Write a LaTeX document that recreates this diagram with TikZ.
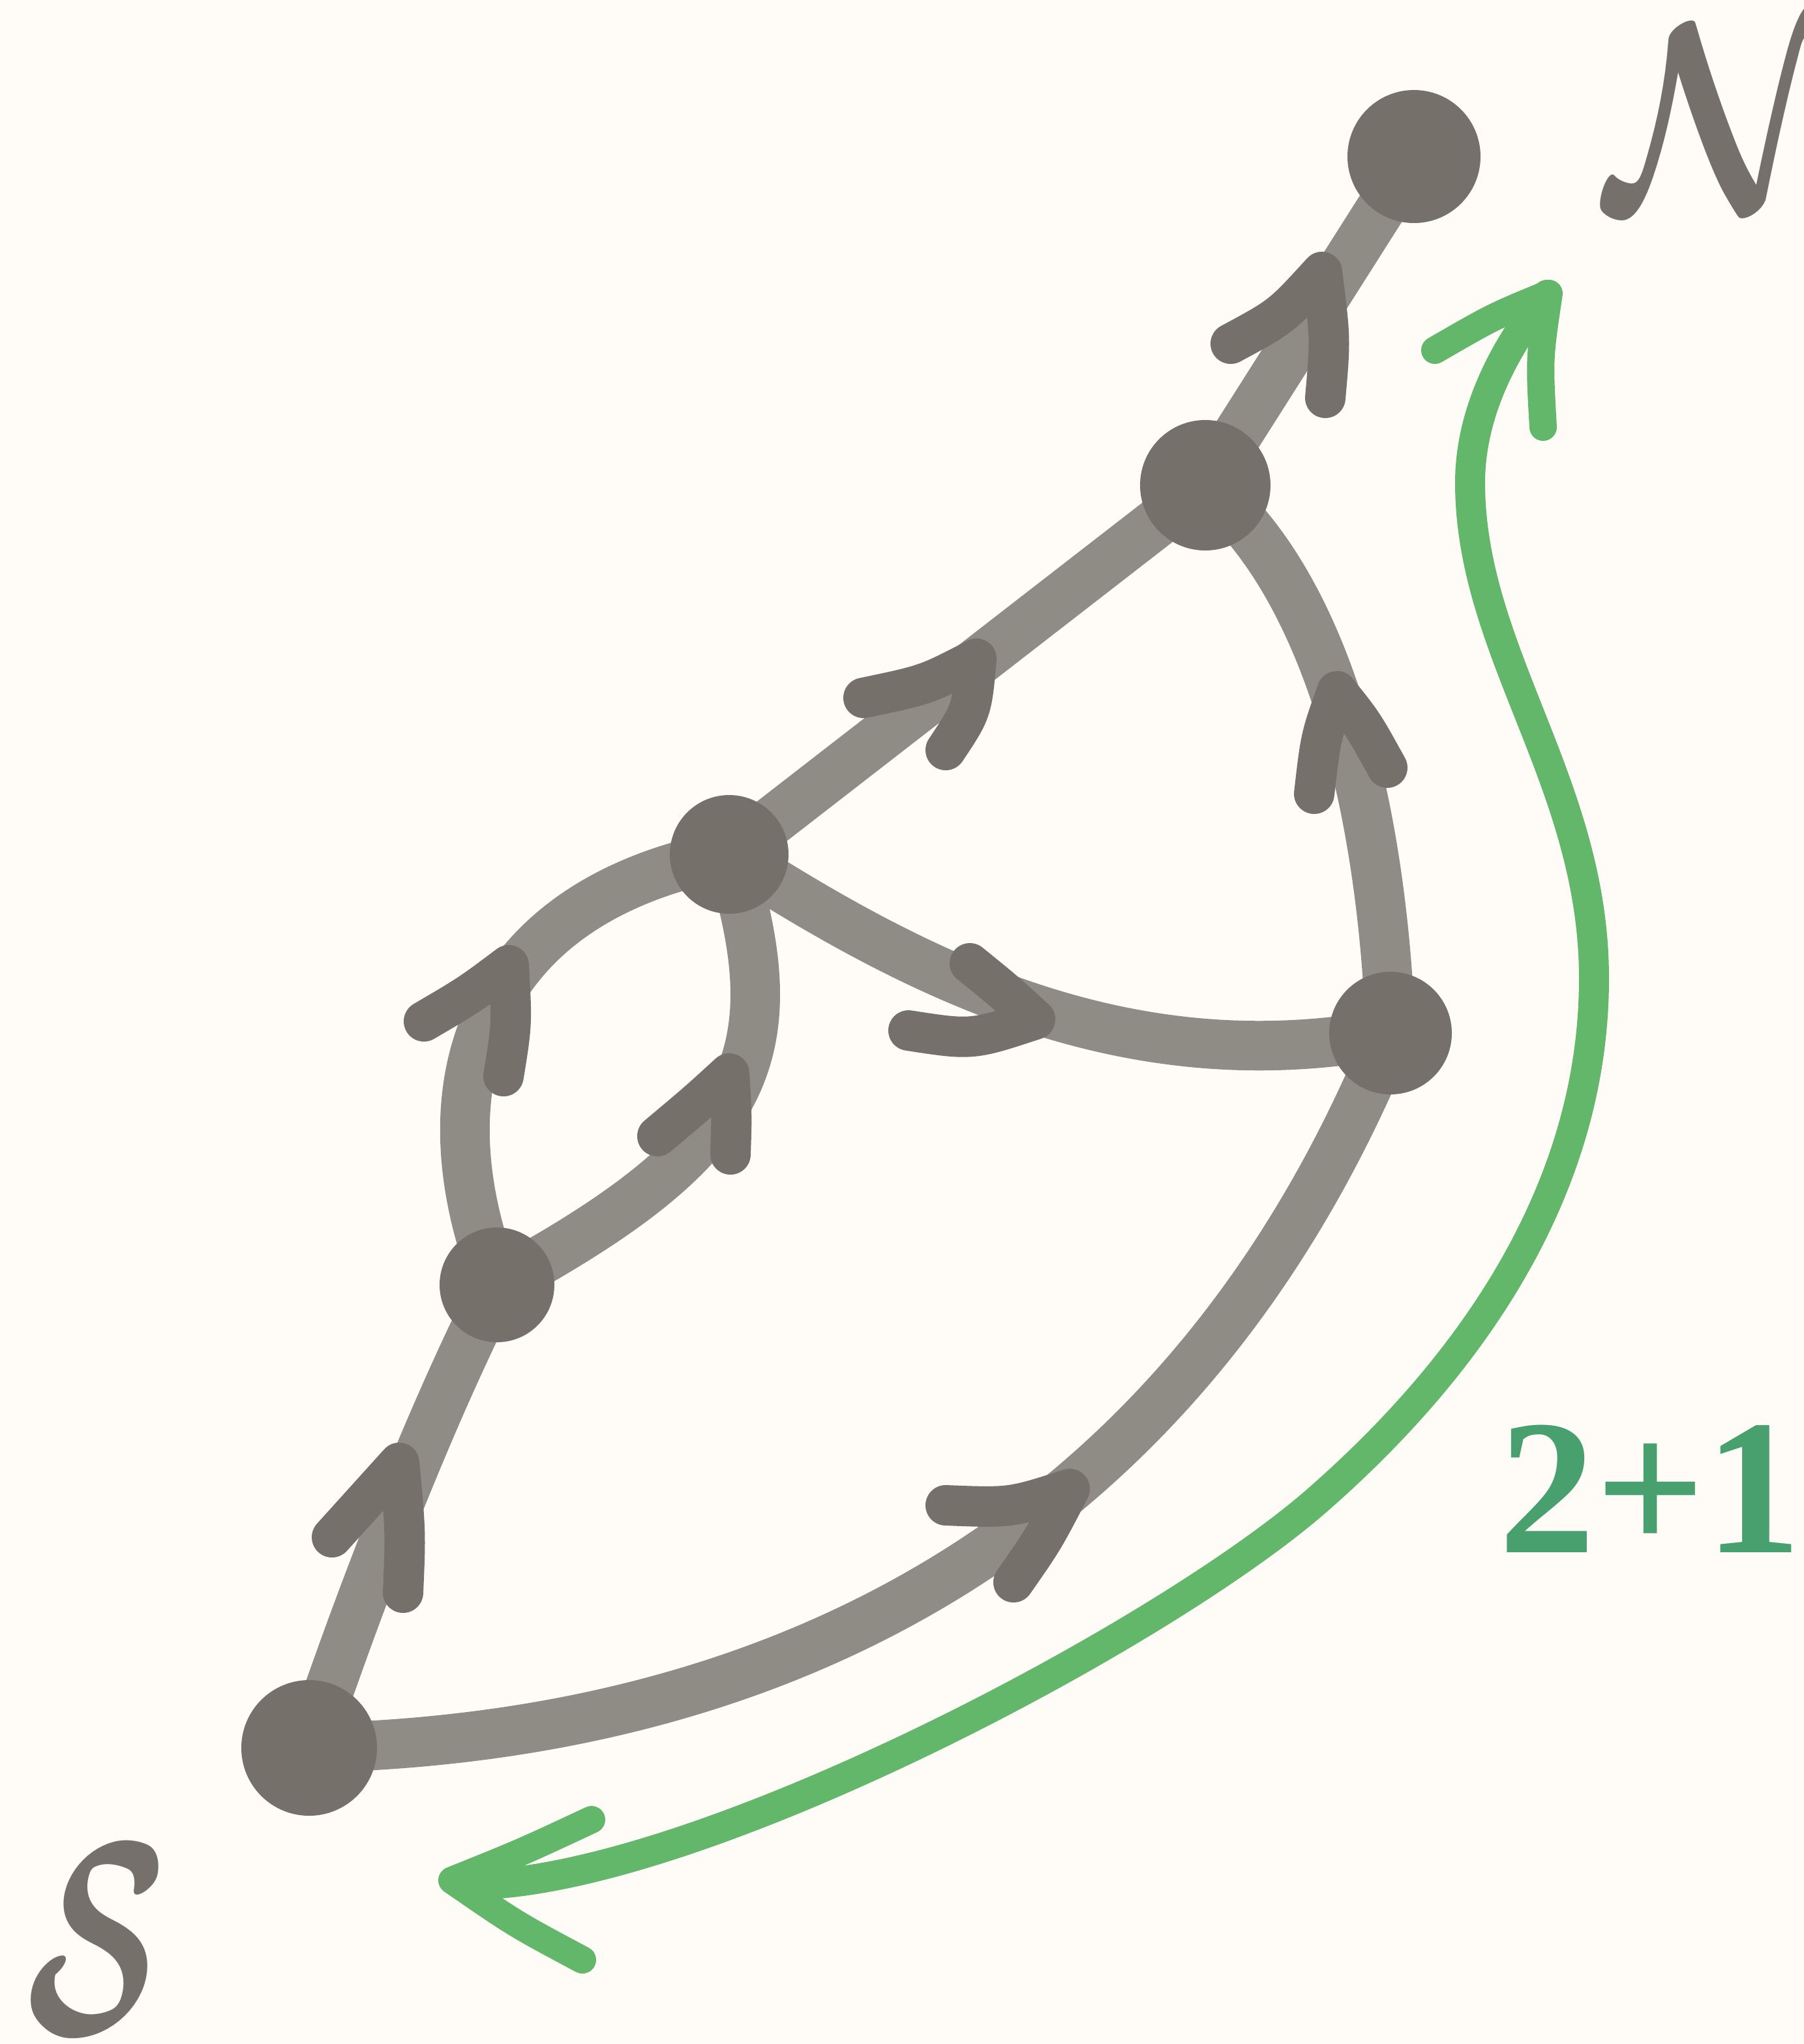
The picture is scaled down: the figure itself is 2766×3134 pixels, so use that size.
\documentclass[tikz,border=0pt]{standalone}
\usepackage{fontspec}
\newfontfamily\numfont{Liberation Serif}
\definecolor{bgc}{HTML}{FFFCF7}
\definecolor{nodec}{HTML}{75716A}
\definecolor{edgec}{HTML}{8F8C86}
\definecolor{greenc}{HTML}{62B76B}
\definecolor{textgreen}{HTML}{48A06E}
\pgfdeclarelayer{bglayer}
\pgfdeclarelayer{edgelayer}
\pgfsetlayers{bglayer,edgelayer,main}
\tikzset{
 vertex/.style={circle, fill=nodec, inner sep=0pt, minimum size=#1},
 link/.style={draw=edgec, line width=7.6mm, line cap=round},
 chev/.style={draw=nodec, line width=6.2mm, line cap=round, line join=round},
 gshaft/.style={draw=greenc, line width=4.6mm, line cap=round},
 ghead/.style={draw=greenc, line width=4.2mm, line cap=round, line join=round},
}
\begin{document}
\begin{tikzpicture}[x=0.1mm,y=-0.1mm]
\begin{pgfonlayer}{bglayer}
\fill[bgc] (0,0) rectangle (2766,3134);
\end{pgfonlayer}
\useasboundingbox (0,0) rectangle (2766,3134);
% vertices
\node[vertex=20.8mm] (S) at (474,2680) {};
\node[vertex=17.6mm] (A) at (762,1970) {};
\node[vertex=18.2mm] (B) at (1118,1310) {};
\node[vertex=20mm] (C) at (1848,744) {};
\node[vertex=18.8mm] (D) at (2132,1584) {};
\node[vertex=20.4mm] (N) at (2168,240) {};
\begin{pgfonlayer}{edgelayer}
\draw[link] (S.center) .. controls (555,2440) and (660,2170) .. (A.center);
\draw[link] (A.center) .. controls (640,1660) and (740,1380) .. (B.center);
\draw[link] (A.center) .. controls (1150,1760) and (1215,1620) .. (B.center);
\draw[link] (B.center) -- (C.center);
\draw[link] (B.center) .. controls (1412,1499) and (1732,1660) .. (D.center);
\draw[link] (C.center) .. controls (2040,900) and (2120,1250) .. (D.center);
\draw[link] (C.center) -- (N.center);
\draw[link] (S.center) .. controls (1174,2666) and (1811,2371) .. (D.center);
% arrow chevrons
\draw[chev] (509,2357) .. controls (560,2300) .. (612,2243) .. controls (622,2350) .. (618,2442);
\draw[chev] (650,1566) .. controls (720,1525) .. (780,1480) .. controls (785,1570) .. (772,1650);
\draw[chev] (1008,1742) .. controls (1070,1690) .. (1118,1646) .. controls (1122,1710) .. (1120,1770);
\draw[chev] (1324,1070) .. controls (1420,1050) .. (1497,1010) .. controls (1490,1090) .. (1450,1150);
\draw[chev] (1487,1477) .. controls (1540,1520) .. (1587,1563) .. controls (1490,1595) .. (1393,1580);
\draw[chev] (2015,1217) .. controls (2025,1130) .. (2050,1060) .. controls (2090,1110) .. (2127,1177);
\draw[chev] (1887,527) .. controls (1965,485) .. (2027,417) .. controls (2040,520) .. (2032,610);
\draw[chev] (1450,2308) .. controls (1550,2312) .. (1640,2283) .. controls (1600,2360) .. (1554,2426);
\end{pgfonlayer}
% green double arrow
\draw[gshaft] (2372,452) .. controls (2300,540) and (2254,640) .. (2254,740)
  .. controls (2254,1000) and (2444,1200) .. (2444,1500)
  .. controls (2444,1820) and (2260,2090) .. (2020,2300)
  .. controls (1780,2510) and (1060,2890) .. (720,2890);
\draw[ghead] (2200,537) .. controls (2290,485) .. (2375,450) .. controls (2360,550) .. (2366,655);
\draw[ghead] (907,2790) .. controls (800,2840) .. (693,2883) .. controls (790,2950) .. (893,3005);
% labels
\node[anchor=base west, inner sep=0pt, text=nodec] (Nlab) at (2462,318) {\scalebox{9.6}[11.6]{\boldmath$\mathcal{N}$}};
\node[anchor=base west, inner sep=0pt, text=nodec] (Slab) at (40,3118) {\scalebox{8}[12]{\boldmath$\mathcal{S}$}};
\node[anchor=base west, inner sep=0pt, text=textgreen, font={\numfont\bfseries\fontsize{84pt}{84pt}\selectfont}] (dim) at (2298,2380) {2+1};
\end{tikzpicture}
\end{document}
